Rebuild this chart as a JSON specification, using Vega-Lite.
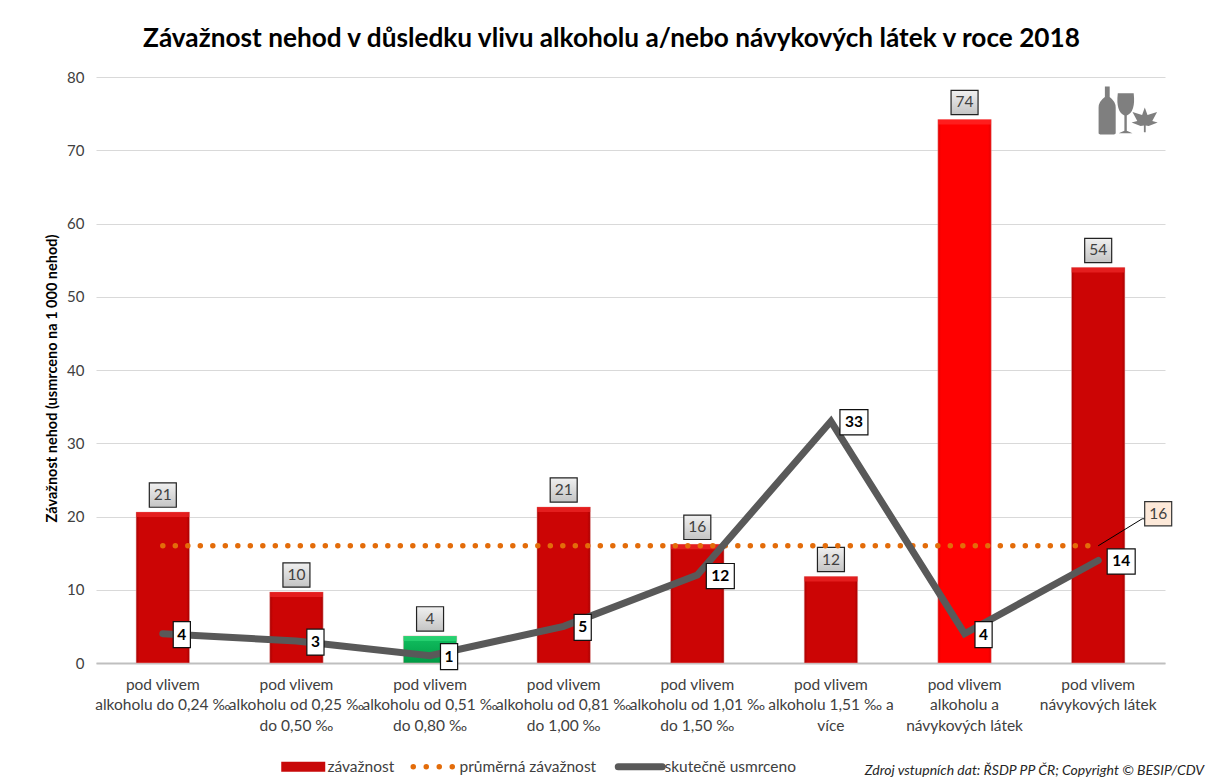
{
"$schema":"https://vega.github.io/schema/vega-lite/v6.json",
"width":1069,"height":586,
"autosize":{"type":"none"},
"padding":{"left":96,"top":77,"right":48,"bottom":119},
"background":"white",
"title":{"text":"Závažnost nehod v důsledku vlivu alkoholu a/nebo návykových látek v roce 2018","font":"Lato","fontSize":26.2,"fontWeight":"bold","color":"#000000","anchor":"middle","offset":18,"dx":-19},
"config":{"view":{"stroke":null},"font":"Lato"},
"data":{"values":[
{"kategorie":"pod vlivem|alkoholu do 0,24 ‰","zavaznost":20.6,"usmrceno":4,"prumer":16,"trida":"střední"},
{"kategorie":"pod vlivem|alkoholu od 0,25 ‰|do 0,50 ‰","zavaznost":9.7,"usmrceno":3,"prumer":16,"trida":"střední"},
{"kategorie":"pod vlivem|alkoholu od 0,51 ‰|do 0,80 ‰","zavaznost":3.7,"usmrceno":1,"prumer":16,"trida":"nízká"},
{"kategorie":"pod vlivem|alkoholu od 0,81 ‰|do 1,00 ‰","zavaznost":21.3,"usmrceno":5,"prumer":16,"trida":"střední"},
{"kategorie":"pod vlivem|alkoholu od 1,01 ‰|do 1,50 ‰","zavaznost":16.2,"usmrceno":12,"prumer":16,"trida":"střední"},
{"kategorie":"pod vlivem|alkoholu 1,51 ‰ a|více","zavaznost":11.8,"usmrceno":33,"prumer":16,"trida":"střední"},
{"kategorie":"pod vlivem|alkoholu a|návykových látek","zavaznost":74.2,"usmrceno":4,"prumer":16,"trida":"vysoká"},
{"kategorie":"pod vlivem|návykových látek","zavaznost":54,"usmrceno":14,"prumer":16,"trida":"střední"}
]},
"encoding":{
"x":{"field":"kategorie","type":"nominal","sort":null,"scale":{"paddingInner":0.6,"paddingOuter":0.3},
"axis":{"title":null,"labelAngle":0,"labelExpr":"split(datum.label,'|')","labelFont":"Lato","labelFontSize":15.5,"labelColor":"#404040","labelLimit":0,"labelPadding":14,"labelLineHeight":20.5,"ticks":false,"domainColor":"#bfbfbf","domainWidth":2,"labelBaseline":"top"}}
},
"layer":[
{"mark":{"type":"bar","stroke":"#e8b0b0","strokeWidth":0.5},
"encoding":{
"y":{"field":"zavaznost","type":"quantitative","scale":{"domain":[0,80],"nice":false},
"axis":{"title":"Závažnost nehod (usmrceno na 1 000 nehod)","titleFont":"Lato","titleFontSize":14.5,"titleFontWeight":"bold","titleColor":"#000000","titlePadding":7,"titleY":301,"values":[0,10,20,30,40,50,60,70,80],"labelFont":"Lato","labelFontSize":15,"labelColor":"#404040","labelPadding":12,"ticks":false,"domain":false,"gridColor":"#d9d9d9","gridWidth":1}},
"color":{"condition":[
{"test":"datum.trida==='nízká'","value":{"x1":0,"y1":0,"x2":0,"y2":1,"gradient":"linear","stops":[{"offset":0,"color":"#12c060"},{"offset":1,"color":"#009a45"}]}},
{"test":"datum.trida==='vysoká'","value":{"x1":0,"y1":0,"x2":1,"y2":0,"gradient":"linear","stops":[{"offset":0,"color":"#e00000"},{"offset":0.06,"color":"#ff0000"},{"offset":0.94,"color":"#ff0000"},{"offset":1,"color":"#e00000"}]}}],
"value":{"x1":0,"y1":0,"x2":1,"y2":0,"gradient":"linear","stops":[{"offset":0,"color":"#a80000"},{"offset":0.06,"color":"#cc0505"},{"offset":0.94,"color":"#cc0505"},{"offset":1,"color":"#a80000"}]}}
}},
{"mark":{"type":"tick","size":53,"thickness":5,"yOffset":2.5},
"encoding":{
"y":{"field":"zavaznost","type":"quantitative"},
"color":{"condition":[
{"test":"datum.trida==='nízká'","value":"#2fd878"},
{"test":"datum.trida==='vysoká'","value":"#ff2a2a"}],"value":"#ee2a2a"}
}},
{"mark":{"type":"point","shape":"M-1,-0.9H1V0.9H-1Z","size":729,"filled":true,"stroke":"#222222","strokeWidth":1.2,"opacity":1,"yOffset":-17,
"fill":{"x1":0,"y1":0,"x2":0,"y2":1,"gradient":"linear","stops":[{"offset":0,"color":"#f0f0f0"},{"offset":1,"color":"#c4c4c4"}]}},
"encoding":{"y":{"field":"zavaznost","type":"quantitative"}}},
{"mark":{"type":"text","font":"Lato","fontSize":15.5,"color":"#404040","yOffset":-17,"baseline":"middle"},
"encoding":{"y":{"field":"zavaznost","type":"quantitative"},"text":{"field":"zavaznost","type":"quantitative","format":".0f"}}},
{"mark":{"type":"line","strokeWidth":5.5,"strokeDash":[0,12.5],"strokeCap":"round"},
"encoding":{"y":{"field":"prumer","type":"quantitative"},
"stroke":{"datum":"průměrná závažnost","type":"nominal","scale":{"domain":["závažnost","průměrná závažnost","skutečně usmrceno"],"range":["#c80808","#e36c0a","#595959"]},
"legend":{"title":null,"orient":"none","legendX":199.5,"legendY":682,"direction":"horizontal","columns":3,"gridAlign":"none","symbolType":"stroke","symbolSize":1936,"columnPadding":7,"labelFont":"Lato","labelFontSize":15.5,"labelColor":"#404040","labelOffset":16.5,"symbolOpacity":1,
"encode":{"symbols":{"update":{"strokeWidth":{"signal":"datum.value==='závažnost'?10:datum.value==='skutečně usmrceno'?7:5.5"},"strokeDash":{"signal":"datum.value==='průměrná závažnost'?[0,13]:[1,0]"},"strokeCap":{"signal":"datum.value==='závažnost'?'butt':'round'"}}}}}}}},
{"mark":{"type":"line","strokeWidth":7,"strokeCap":"round","strokeJoin":"miter"},
"encoding":{"y":{"field":"usmrceno","type":"quantitative"},"stroke":{"datum":"skutečně usmrceno","type":"nominal"}}},
{"transform":[{"filter":"datum.usmrceno<10"}],
"mark":{"type":"point","shape":"M-0.66,-1H0.66V1H-0.66Z","size":676,"filled":true,"fill":"#ffffff","stroke":"#111111","strokeWidth":1.2,"opacity":1,"xOffset":19,"yOffset":1},
"encoding":{"y":{"field":"usmrceno","type":"quantitative"}}},
{"transform":[{"filter":"datum.usmrceno>=10"}],
"mark":{"type":"point","shape":"M-1,-0.9H1V0.9H-1Z","size":784,"filled":true,"fill":"#ffffff","stroke":"#111111","strokeWidth":1.2,"opacity":1,"xOffset":23,"yOffset":1},
"encoding":{"y":{"field":"usmrceno","type":"quantitative"}}},
{"transform":[{"filter":"datum.usmrceno<10"}],
"mark":{"type":"text","font":"Lato","fontSize":15.5,"fontWeight":"bold","color":"#000000","xOffset":19,"yOffset":1,"baseline":"middle"},
"encoding":{"y":{"field":"usmrceno","type":"quantitative"},"text":{"field":"usmrceno","type":"quantitative"}}},
{"transform":[{"filter":"datum.usmrceno>=10"}],
"mark":{"type":"text","font":"Lato","fontSize":15.5,"fontWeight":"bold","color":"#000000","xOffset":23,"yOffset":1,"baseline":"middle"},
"encoding":{"y":{"field":"usmrceno","type":"quantitative"},"text":{"field":"usmrceno","type":"quantitative"}}},
{"transform":[{"filter":"datum.zavaznost===54"}],
"mark":{"type":"point","shape":"M0,0L0.88,-0.54L1.02,-0.54","size":10000,"filled":false,"stroke":"#000000","strokeWidth":1,"opacity":1},
"encoding":{"y":{"field":"prumer","type":"quantitative"}}},
{"transform":[{"filter":"datum.zavaznost===54"}],
"mark":{"type":"point","shape":"M-1,-0.9H1V0.9H-1Z","size":729,"filled":true,"fill":"#fde9d9","stroke":"#333333","strokeWidth":1.2,"opacity":1,"xOffset":60,"yOffset":-32},
"encoding":{"y":{"field":"prumer","type":"quantitative"}}},
{"transform":[{"filter":"datum.zavaznost===54"}],
"mark":{"type":"text","font":"Lato","fontSize":15.5,"color":"#404040","xOffset":60,"yOffset":-32,"baseline":"middle"},
"encoding":{"y":{"field":"prumer","type":"quantitative"},"text":{"field":"prumer","type":"quantitative"}}},
{"transform":[{"filter":"datum.zavaznost===54"}],
"mark":{"type":"point","shape":"M-0.76,-0.8L-0.6,-0.8L-0.6,-0.45Q-0.4,-0.3,-0.4,-0.1L-0.4,0.77L-0.45,0.8L-0.92,0.8L-0.97,0.77L-0.97,-0.1Q-0.97,-0.3,-0.76,-0.45ZM-0.33,-0.57L0.2,-0.57Q0.27,0.05,-0.03,0.17L-0.03,0.68L0.16,0.76L-0.3,0.76L-0.11,0.68L-0.11,0.17Q-0.4,0.05,-0.33,-0.57ZM0.57,-0.1L0.66,0.15L0.98,0.05L0.82,0.35L1,0.4L0.7,0.52L0.6,0.5L0.6,0.73L0.54,0.73L0.54,0.5L0.43,0.52L0.13,0.4L0.32,0.35L0.16,0.05L0.48,0.15Z","size":3600,"filled":true,"fill":"#7f7f7f","stroke":null,"opacity":1,"xOffset":29.5,"yOffset":-157},
"encoding":{"y":{"field":"zavaznost","type":"quantitative"}}},
{"transform":[{"filter":"datum.zavaznost===54"}],
"mark":{"type":"text","font":"Lato","fontSize":14,"fontStyle":"italic","color":"#262626","align":"right","baseline":"middle","xOffset":106,"yOffset":107.5,"text":"Zdroj vstupních dat: ŘSDP PP ČR; Copyright © BESIP/CDV"},
"encoding":{"y":{"datum":0,"type":"quantitative"}}}
]
}
